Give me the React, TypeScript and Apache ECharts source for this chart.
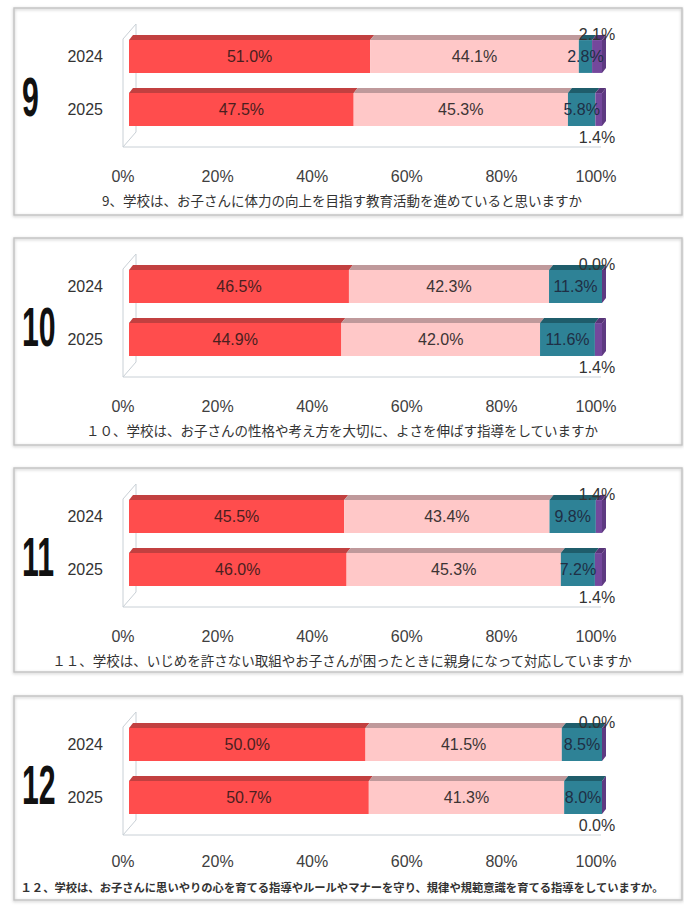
import React, { useEffect, useRef } from 'react';
import * as echarts from 'echarts';

// ---- data ----
const QUESTION_NUMBERS = ['9', '10', '11', '12'];
const YEARS = ['2024', '2025'];
const CAPTIONS = [
  '9、学校は、お子さんに体力の向上を目指す教育活動を進めていると思いますか',
  '１０、学校は、お子さんの性格や考え方を大切に、よさを伸ばす指導をしていますか',
  '１１、学校は、いじめを許さない取組やお子さんが困ったときに親身になって対応していますか',
  '１２、学校は、お子さんに思いやりの心を育てる指導やルールやマナーを守り、規律や規範意識を育てる指導をしていますか。',
];
// order of segments: [red, pink, teal, purple]
const Q9_2024 = [51.0, 44.1, 2.8, 2.1];
const Q9_2025 = [47.5, 45.3, 5.8, 1.4];
const Q10_2024 = [46.5, 42.3, 11.3, 0.0];
const Q10_2025 = [44.9, 42.0, 11.6, 1.4];
const Q11_2024 = [45.5, 43.4, 9.8, 1.4];
const Q11_2025 = [46.0, 45.3, 7.2, 1.4];
const Q12_2024 = [50.0, 41.5, 8.5, 0.0];
const Q12_2025 = [50.7, 41.3, 8.0, 0.0];
const PANELS = [
  [Q9_2024, Q9_2025],
  [Q10_2024, Q10_2025],
  [Q11_2024, Q11_2025],
  [Q12_2024, Q12_2025],
];
const X_MIN = 0;
const X_MAX = 100;
const X_INTERVAL = 20;

// ---- styles ----
const FRONT = ['#ff4d4d', '#ffc8c8', '#2e8296', '#74489c'];
const TOP = ['#c24040', '#bf999b', '#1f5d6b', '#563477'];
const SIDE = '#5e3a82';
const LABEL_COLORS = ['#4a1f1f', '#3c3434', '#1f2f45', '#333333'];
const FONT = "'Liberation Sans Narrow', 'Arial Narrow', 'Liberation Sans', sans-serif";
const PANEL_TOP = [0, 230, 460, 688];
const DX = 4;
const DY = 5;

function makeRenderItem() {
  return (params: any, api: any) => {
    const start = api.value(0);
    const end = api.value(1);
    const cat = api.value(2);
    const s = api.value(3);
    const v = api.value(4);
    const p0 = api.coord([start, cat]);
    const p1 = api.coord([end, cat]);
    const band = api.size([0, 1])[1];
    const h = band * 0.62;
    const yT = p0[1] - h / 2;
    const yB = p0[1] + h / 2;
    const x0 = p0[0];
    const x1 = p1[0];
    const children: any[] = [];
    children.push({
      type: 'rect',
      shape: { x: x0, y: yT, width: Math.max(0, x1 - x0), height: h },
      style: { fill: FRONT[s] },
    });
    if (x1 > x0) {
      children.push({
        type: 'polygon',
        shape: { points: [[x0, yT], [x1, yT], [x1 + DX, yT - DY], [x0 + DX, yT - DY]] },
        style: { fill: TOP[s] },
      });
    }
    if (s === 3) {
      children.push({
        type: 'polygon',
        shape: { points: [[x1, yT], [x1 + DX, yT - DY], [x1 + DX, yB - DY], [x1, yB]] },
        style: { fill: SIDE },
      });
    }
    const text = v.toFixed(1) + '%';
    let tx = (x0 + x1) / 2;
    let ty = (yT + yB) / 2;
    if (s === 3) {
      tx = x1 - 5;
      ty = cat === 0 ? yT - 6 : yB + 12;
    }
    children.push({
      type: 'text',
      z2: 100,
      style: {
        text,
        x: tx,
        y: ty,
        align: 'center',
        verticalAlign: 'middle',
        fontSize: 16,
        fontFamily: FONT,
        fill: LABEL_COLORS[s],
      },
    });
    return { type: 'group', children };
  };
}

export default function App() {
  const ref = useRef<HTMLDivElement>(null);
  useEffect(() => {
    document.body.style.margin = '0';
    if (!ref.current) return;
    const chart = echarts.init(ref.current, null, { renderer: 'svg' });

    const grids: any[] = [];
    const xAxes: any[] = [];
    const yAxes: any[] = [];
    const series: any[] = [];
    const titles: any[] = [];
    const graphics: any[] = [];

    PANELS.forEach((rows, k) => {
      const o = PANEL_TOP[k];
      grids.push({ left: 129, width: 473, top: o + 30, height: 106 });
      xAxes.push({
        gridIndex: k,
        type: 'value',
        min: X_MIN,
        max: X_MAX,
        interval: X_INTERVAL,
        axisLine: { show: false },
        axisTick: { show: false },
        splitLine: { show: false },
        axisLabel: {
          formatter: '{value}%',
          fontSize: 16,
          fontFamily: FONT,
          color: '#404040',
          margin: k === 3 ? 29 : 32,
          padding: [0, 12, 0, 0],
        },
      });
      yAxes.push({
        gridIndex: k,
        type: 'category',
        data: YEARS,
        inverse: true,
        axisLine: { show: false },
        axisTick: { show: false },
        axisLabel: {
          fontSize: 16,
          fontFamily: FONT,
          color: '#333333',
          margin: 26,
          padding: [17, 0, 0, 0],
        },
      });
      const data: any[] = [];
      for (let s = 0; s < 4; s++) {
        rows.forEach((vals, cat) => {
          let start = 0;
          for (let j = 0; j < s; j++) start += vals[j];
          const end = s === 3 ? 100 : start + vals[s];
          data.push([start, Math.min(end, 100), cat, s, vals[s]]);
        });
      }
      series.push({
        type: 'custom',
        xAxisIndex: k,
        yAxisIndex: k,
        renderItem: makeRenderItem(),
        data,
        encode: { x: [0, 1], y: 2 },
      });
      titles.push({
        text: CAPTIONS[k],
        left: 'center',
        top: o + (k === 3 ? 188 : 188),
        textStyle: {
          fontSize: k === 3 ? 11.3 : 13.5,
          fontWeight: k === 3 ? 'bold' : 'normal',
          color: '#333333',
          fontFamily: "'Noto Sans CJK JP', sans-serif",
        },
      });
      // panel box
      graphics.push({
        type: 'rect',
        shape: { x: 14, y: o + 8, width: 668, height: k >= 2 ? 204 : 207 },
        style: {
          fill: 'none',
          stroke: '#c4c4c4',
          lineWidth: 1.5,
          shadowBlur: 3,
          shadowColor: 'rgba(0,0,0,0.25)',
          shadowOffsetY: 1,
        },
        silent: true,
        z: -10,
      });
      // 3D wall & floor
      graphics.push({
        type: 'polyline',
        shape: {
          points: [
            [123, o + 147], [123, o + 39], [136, o + 24], [136, o + 132], [123, o + 147],
            [601, o + 147],
          ],
        },
        style: { fill: 'none', stroke: '#c9d0d6', lineWidth: 1 },
        silent: true,
        z: -5,
      });
      graphics.push({
        type: 'text',
        x: 22,
        y: o + 97,
        scaleX: 0.55,
        style: {
          text: QUESTION_NUMBERS[k],
          fontSize: 55,
          fontWeight: 'bold',
          fontFamily: "'Liberation Sans', Arial, sans-serif",
          fill: '#111111',
          align: 'left',
          verticalAlign: 'middle',
        },
      });
    });

    chart.setOption({
      animation: false,
      backgroundColor: '#ffffff',
      title: titles,
      grid: grids,
      xAxis: xAxes,
      yAxis: yAxes,
      series,
      graphic: graphics,
    });
    return () => chart.dispose();
  }, []);
  return <div ref={ref} style={{ width: 684, height: 906 }} />;
}
